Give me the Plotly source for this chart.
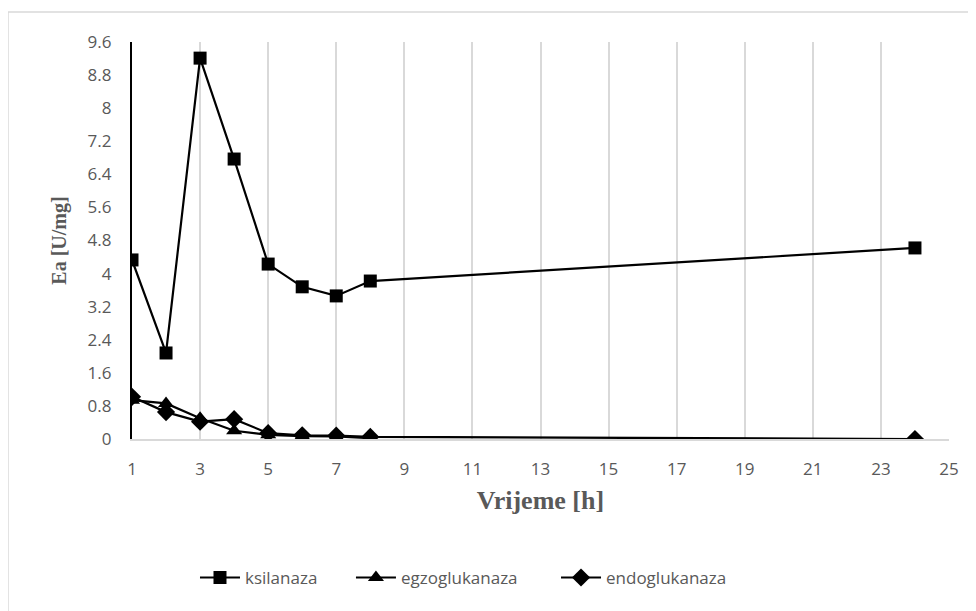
import plotly.graph_objects as go

time_h = [1, 2, 3, 4, 5, 6, 7, 8, 24]
ksilanaza = [4.33, 2.08, 9.21, 6.77, 4.23, 3.68, 3.46, 3.82, 4.62]
time_egzo = [1, 2, 3, 4, 5, 6, 7, 8]
egzoglukanaza = [0.94, 0.86, 0.50, 0.20, 0.10, 0.07, 0.06, 0.02]
endoglukanaza = [1.02, 0.65, 0.42, 0.48, 0.14, 0.09, 0.08, 0.05, 0.0]

y_ticks = [0, 0.8, 1.6, 2.4, 3.2, 4, 4.8, 5.6, 6.4, 7.2, 8, 8.8, 9.6]
y_tick_text = ["0", "0.8", "1.6", "2.4", "3.2", "4", "4.8", "5.6", "6.4", "7.2", "8", "8.8", "9.6"]
x_ticks = [1, 3, 5, 7, 9, 11, 13, 15, 17, 19, 21, 23, 25]

fig = go.Figure()
fig.add_trace(go.Scatter(x=time_h, y=ksilanaza, name="ksilanaza", mode="lines+markers",
                         line=dict(color="black", width=2.2), legend="legend",
                         marker=dict(symbol="square", size=13, color="black")))
fig.add_trace(go.Scatter(x=time_egzo, y=egzoglukanaza, name="egzoglukanaza", mode="lines+markers",
                         line=dict(color="black", width=2.2), legend="legend2",
                         marker=dict(symbol="triangle-up", size=14, color="black")))
fig.add_trace(go.Scatter(x=time_h, y=endoglukanaza, name="endoglukanaza", mode="lines+markers",
                         line=dict(color="black", width=2.2), legend="legend3",
                         marker=dict(symbol="diamond", size=14, color="black")))

tick_font = dict(family="Open Sans, Noto Sans, sans-serif", size=17, color="#595959")
legend_font = dict(family="Open Sans, Noto Sans, sans-serif", size=17, color="#595959")
x_title_font = dict(family="Liberation Serif, serif", size=26, color="#595959")
y_title_font = dict(family="Liberation Serif, serif", size=20, color="#595959")


def leg(xpos):
    return dict(orientation="h", x=xpos, xanchor="left", y=-0.35, yanchor="middle",
                font=legend_font, itemwidth=40, bgcolor="rgba(0,0,0,0)")


fig.update_layout(
    width=968, height=603,
    margin=dict(l=124, r=27, t=34, b=172),
    paper_bgcolor="white", plot_bgcolor="white",
    showlegend=True,
    legend=leg(0.0771),
    legend2=leg(0.268),
    legend3=leg(0.519),
    xaxis=dict(range=[1, 25], tickvals=x_ticks, showgrid=True, gridcolor="#d9d9d9", gridwidth=1.5,
               showline=True, linecolor="#d9d9d9", linewidth=1.5, zeroline=False, ticks="",
               tickfont=tick_font, ticklabelstandoff=14,
               title=dict(text="<b>Vrijeme [h]</b>", font=x_title_font, standoff=12)),
    yaxis=dict(range=[0, 9.6], tickvals=y_ticks, ticktext=y_tick_text, showgrid=False,
               showline=True, linecolor="black", linewidth=2.2, zeroline=False, ticks="",
               tickfont=tick_font, ticklabelstandoff=15,
               title=dict(text="<b>Ea [U/mg]</b>", font=y_title_font, standoff=16)),
    shapes=[dict(type="rect", xref="paper", yref="paper", x0=-0.1518, x1=1.04, y0=-0.45, y1=1.0756,
                 line=dict(color="#d9d9d9", width=1.5), fillcolor="rgba(0,0,0,0)", layer="below")],
)

fig.write_html("out.html")
